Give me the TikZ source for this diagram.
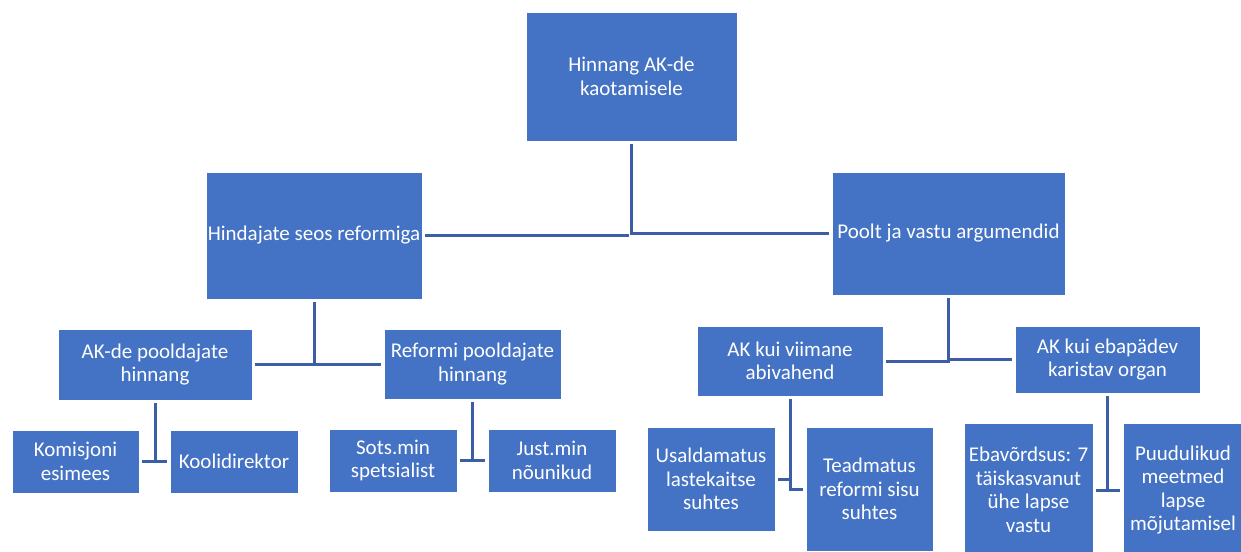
\documentclass[tikz,border=0pt]{standalone}
\usepackage{fontspec}
\setmainfont{Carlito}
\definecolor{boxblue}{HTML}{4472C4}
\definecolor{linkblue}{RGB}{59,94,167}
\begin{document}
\begin{tikzpicture}[x=1pt,y=-1pt,
  box/.style={rectangle, fill=boxblue, draw=white, line width=0.8pt, inner sep=0pt,
    align=center, text=white, font=\fontsize{21}{23.5}\selectfont},
  link/.style={draw=linkblue, line width=3pt, shorten <=3pt, shorten >=3pt}]
\clip (0,0) rectangle (1241,551);
\useasboundingbox (0,0) rectangle (1241,551);
\node[box, minimum width=211, minimum height=129] (top) at (631.5,76.5) {Hinnang AK-de\\kaotamisele};
\node[box, minimum width=216, minimum height=127] (hind) at (314,235.5) {Hindajate seos reformiga};
\node[box, minimum width=233, minimum height=123] (poolt) at (948.5,233.5) {Poolt ja vastu argumendid};
\node[box, minimum width=194, minimum height=71] (akde) at (155,364.5) {AK-de pooldajate\\hinnang};
\node[box, minimum width=177, minimum height=70] (reformi) at (472.5,364) {Reformi pooldajate\\hinnang};
\node[box, minimum width=127, minimum height=63] (komis) at (75.5,461.5) {Komisjoni\\esimees};
\node[box, minimum width=128, minimum height=63] (kool) at (234,461.5) {Koolidirektor};
\node[box, minimum width=128, minimum height=63] (sots) at (393,460.5) {Sots.min\\spetsialist};
\node[box, minimum width=128, minimum height=63] (just) at (552,460.5) {Just.min\\nõunikud};
\node[box, minimum width=186, minimum height=70] (viimane) at (790,361) {AK kui viimane\\abivahend};
\node[box, minimum width=185, minimum height=67] (ebapadev) at (1107.5,359.5) {AK kui ebapädev\\karistav organ};
\node[box, minimum width=128, minimum height=104] (usald) at (711,479) {Usaldamatus\\lastekaitse\\suhtes};
\node[box, minimum width=127, minimum height=124] (teadm) at (869.5,489) {Teadmatus\\reformi sisu\\suhtes};
\node[box, minimum width=129, minimum height=134] (ebav) at (1028.5,490) {Ebavõrdsus: 7\\täiskasvanut\\ühe lapse\\vastu};
\node[box, minimum width=120, minimum height=134] (puud) at (1183,490) {Puudulikud\\meetmed\\lapse\\mõjutamisel};
\draw[link] (hind.east) -- (hind.east -| top.south);
\draw[link] (top.south) |- (poolt.west);
\draw[link] (akde.east) -| (hind.south);
\draw[link] (hind.south) |- (reformi.west);
\draw[link] (akde.south) |- (komis.east);
\draw[link] (akde.south) |- (kool.west);
\draw[link] (reformi.south) |- (sots.east);
\draw[link] (reformi.south) |- (just.west);
\draw[link] (viimane.east) -| (poolt.south);
\draw[link] (poolt.south) |- (ebapadev.west);
\draw[link] (viimane.south) |- (usald.east);
\draw[link] (viimane.south) |- (teadm.west);
\draw[link] (ebapadev.south) |- (ebav.east);
\draw[link] (ebapadev.south) |- (puud.west);
\end{tikzpicture}
\end{document}
